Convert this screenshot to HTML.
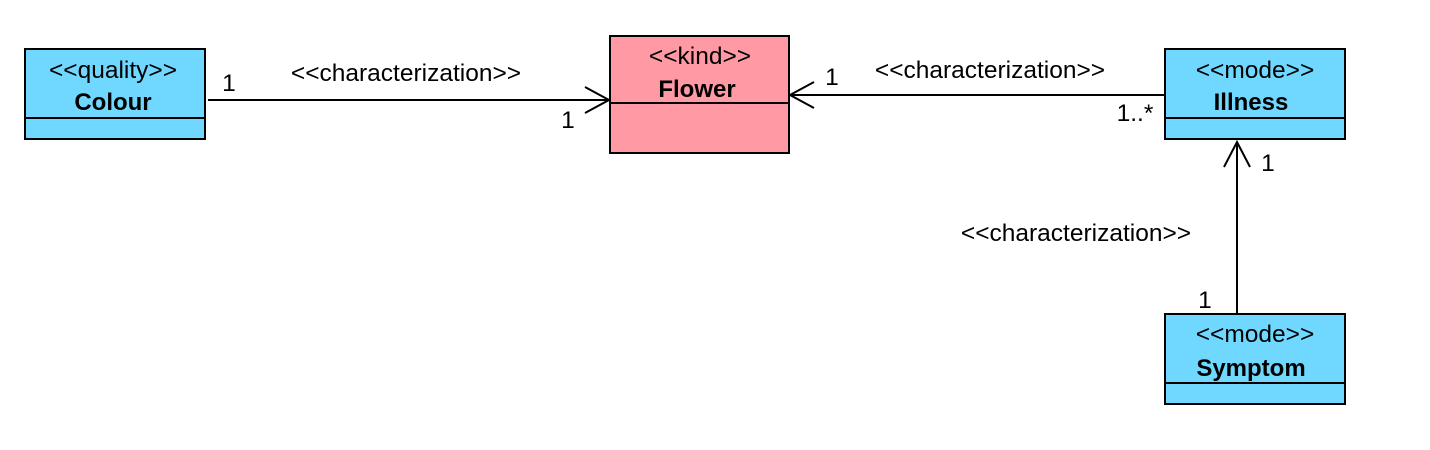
<!DOCTYPE html>
<html><head><meta charset="utf-8"><style>
html,body{margin:0;padding:0;background:#fff;}
svg{display:block;font-family:"Liberation Sans",Arial,sans-serif;}
</style></head><body>
<svg width="1430" height="450" viewBox="0 0 1430 450" xmlns="http://www.w3.org/2000/svg">
<g stroke="#000" stroke-width="2">
<rect x="25" y="49" width="180" height="90" fill="#70d8ff"/>
<line x1="25" y1="118" x2="205" y2="118"/>
<rect x="610" y="36" width="179" height="117" fill="#ff99a3"/>
<line x1="610" y1="103" x2="789" y2="103"/>
<rect x="1165" y="49" width="180" height="90" fill="#70d8ff"/>
<line x1="1165" y1="118" x2="1345" y2="118"/>
<rect x="1165" y="314" width="180" height="90" fill="#70d8ff"/>
<line x1="1165" y1="383" x2="1345" y2="383"/>
<g fill="none">
<line x1="208" y1="100" x2="609" y2="100"/>
<polyline points="585,87 609,100 585,113"/>
<line x1="790" y1="95" x2="1165" y2="95"/>
<polyline points="814,82 790,95 814,108"/>
<line x1="1237" y1="142" x2="1237" y2="314"/>
<polyline points="1224,167 1237,142 1250,167"/>
</g>
</g>
<g font-size="24.5" fill="#000" text-anchor="middle">
<text x="113" y="78">&lt;&lt;quality&gt;&gt;</text>
<text x="113" y="110" font-weight="bold" font-size="24">Colour</text>
<text x="700" y="64">&lt;&lt;kind&gt;&gt;</text>
<text x="697" y="97" font-weight="bold" font-size="24">Flower</text>
<text x="1255" y="78">&lt;&lt;mode&gt;&gt;</text>
<text x="1251" y="110" font-weight="bold" font-size="24">Illness</text>
<text x="1255" y="342">&lt;&lt;mode&gt;&gt;</text>
<text x="1251" y="376" font-weight="bold" font-size="24">Symptom</text>
<text x="406" y="81">&lt;&lt;characterization&gt;&gt;</text>
<text x="990" y="78">&lt;&lt;characterization&gt;&gt;</text>
<text x="1076" y="241">&lt;&lt;characterization&gt;&gt;</text>
<text x="229" y="91">1</text>
<text x="568" y="128">1</text>
<text x="832" y="85">1</text>
<text x="1135" y="121">1..*</text>
<text x="1268" y="171">1</text>
<text x="1205" y="308">1</text>
</g>
</svg>
</body></html>
